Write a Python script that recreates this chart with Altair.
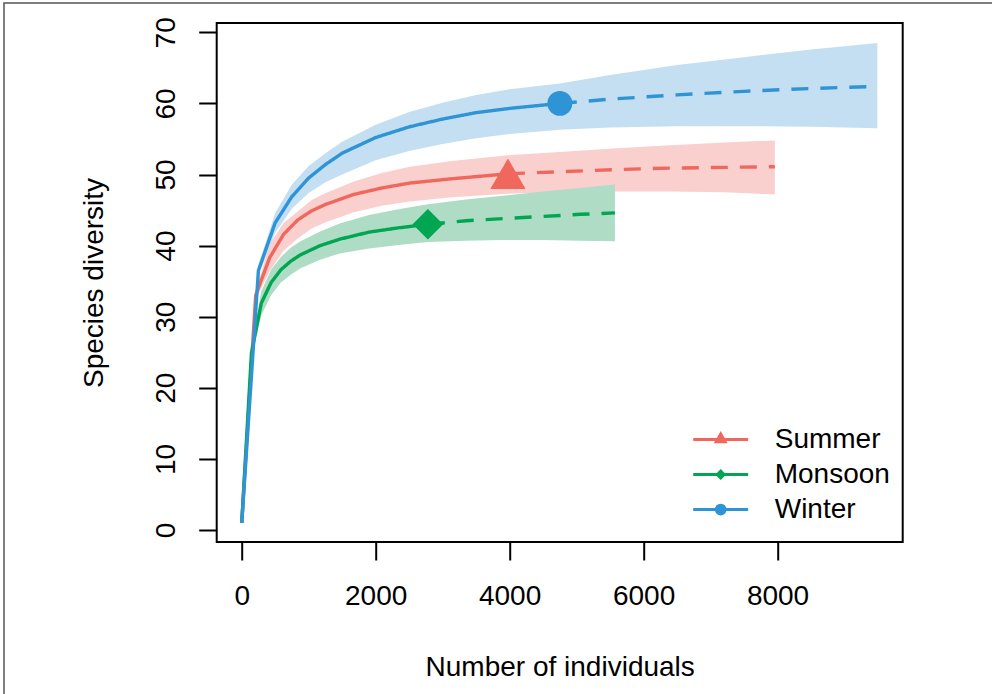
import altair as alt
import pandas as pd

# ---------------- data ----------------
seasons = ["Summer", "Monsoon", "Winter"]
observed_n = [3975, 2780, 4750]          # reference sample size of each season

summer_n    = [1, 209, 418, 627, 836, 1046, 1255, 1674, 2092, 2511, 3138, 3975, 4800, 5600, 6400, 7200, 7960]
summer_mean = [1, 33.0, 38.3, 41.6, 43.6, 44.9, 45.8, 47.2, 48.1, 48.8, 49.4, 50.1, 50.4, 50.7, 50.9, 51.0, 51.1]
summer_hi   = [1, 33.6, 40.2, 43.2, 44.8, 46.4, 47.4, 49.0, 50.2, 51.1, 51.9, 52.7, 53.2, 53.7, 54.1, 54.5, 54.8]
summer_lo   = [1, 32.4, 36.4, 39.3, 41.0, 42.4, 43.3, 44.7, 45.6, 46.2, 46.8, 47.3, 47.5, 47.6, 47.6, 47.5, 47.2]

monsoon_n    = [1, 146, 293, 439, 585, 732, 878, 1171, 1463, 1902, 2341, 2780, 3350, 3900, 4500, 5050, 5572]
monsoon_mean = [1, 24.9, 31.9, 34.8, 36.6, 37.8, 38.7, 40.0, 40.9, 41.9, 42.5, 43.0, 43.5, 43.8, 44.1, 44.4, 44.6]
monsoon_hi   = [1, 25.4, 33.6, 36.6, 38.4, 39.7, 40.6, 42.0, 43.1, 44.3, 45.1, 45.8, 46.5, 47.0, 47.6, 48.1, 48.6]
monsoon_lo   = [1, 24.4, 30.2, 33.0, 34.8, 35.9, 36.8, 38.0, 38.9, 39.6, 40.1, 40.5, 40.7, 40.8, 40.8, 40.7, 40.6]

winter_n    = [1, 250, 500, 750, 1000, 1250, 1500, 2000, 2500, 3000, 3500, 4000, 4750, 5500, 6500, 7500, 8500, 9490]
winter_mean = [1, 36.5, 43.2, 46.9, 49.5, 51.4, 53.0, 55.2, 56.7, 57.8, 58.7, 59.3, 60.0, 60.6, 61.2, 61.7, 62.1, 62.4]
winter_hi   = [1, 37.3, 44.6, 48.6, 51.2, 53.0, 54.6, 57.0, 58.8, 60.1, 61.2, 62.0, 62.8, 64.0, 65.4, 66.5, 67.6, 68.5]
winter_lo   = [1, 35.8, 41.8, 45.2, 47.4, 48.9, 50.0, 52.0, 53.3, 54.3, 55.1, 55.7, 56.3, 56.6, 56.8, 56.8, 56.7, 56.5]

x_ticks = [0, 2000, 4000, 6000, 8000]
y_ticks = [0, 10, 20, 30, 40, 50, 60, 70]

# ---------------- styling ----------------
line_colors = ["#F0675D", "#00A651", "#2E94D6"]
band_colors = ["#F9D0CE", "#AEDCC5", "#C5DFF2"]
FONT = "Liberation Sans"

# ---------------- tables ----------------
series = {
    "Summer": (summer_n, summer_mean, summer_lo, summer_hi),
    "Monsoon": (monsoon_n, monsoon_mean, monsoon_lo, monsoon_hi),
    "Winter": (winter_n, winter_mean, winter_lo, winter_hi),
}
rows = []
band_rows = []
obs_rows = []
for s, nobs in zip(seasons, observed_n):
    ns, ms, ls, hs = series[s]
    for n, m, lo, hi in zip(ns, ms, ls, hs):
        base = {"season": s, "n": n, "S": m, "lo": lo, "hi": hi}
        band_rows.append(base)
        if n <= nobs:
            rows.append({**base, "part": "Rarefaction"})
        if n >= nobs:
            rows.append({**base, "part": "Extrapolation"})
        if n == nobs:
            obs_rows.append({"season": s, "n": n, "S": m})
curves = pd.DataFrame(rows)
band_df = pd.DataFrame(band_rows)
obs = pd.DataFrame(obs_rows)

x_scale = alt.Scale(domain=[-373, 9869], nice=False, zero=False)
y_scale = alt.Scale(domain=[-1.69, 71.31], nice=False, zero=False)

x_axis = alt.Axis(
    values=x_ticks, format="d", title="Number of individuals", grid=False, domain=False,
    tickSize=18, tickWidth=2, tickColor="black", labelFontSize=28, labelFont=FONT,
    labelColor="black", labelBaseline="alphabetic", labelPadding=44, labelFlush=False,
    titleFontSize=28, titleFont=FONT, titleFontWeight="normal", titleColor="black",
    titleBaseline="alphabetic", titleY=133,
)
y_axis = alt.Axis(
    values=y_ticks, format="d", title="Species diversity", grid=False, domain=False,
    tickSize=18, tickWidth=2, tickColor="black", labelFontSize=28, labelFont=FONT,
    labelColor="black", labelAngle=270, labelAlign="center", labelBaseline="alphabetic",
    labelPadding=24, labelFlush=False,
    titleFontSize=28, titleFont=FONT, titleFontWeight="normal", titleColor="black",
    titleAngle=270, titleAlign="center", titleBaseline="alphabetic", titleX=-114, titleY=259.5,
)

color_scale = alt.Scale(domain=seasons, range=line_colors)

# confidence bands, one layer per season so the drawing order is fixed
bands = []
for s, bc in zip(seasons, band_colors):
    sub = band_df[band_df["season"] == s]
    bands.append(
        alt.Chart(sub)
        .mark_area(fill=bc, opacity=1)
        .encode(
            x=alt.X("n:Q", scale=x_scale, axis=x_axis),
            y=alt.Y("lo:Q", scale=y_scale, axis=y_axis),
            y2=alt.Y2("hi:Q"),
        )
    )

lines = alt.Chart(curves).mark_line(strokeWidth=3.4, strokeCap="butt").encode(
    x=alt.X("n:Q", scale=x_scale, axis=x_axis),
    y=alt.Y("S:Q", scale=y_scale, axis=y_axis),
    color=alt.Color("season:N", scale=color_scale, legend=None),
    strokeDash=alt.StrokeDash(
        "part:N",
        scale=alt.Scale(domain=["Rarefaction", "Extrapolation"], range=[[1, 0], [17, 12]]),
        legend=None,
    ),
    detail="part:N",
    order="n:Q",
)

markers = alt.Chart(obs).mark_point(filled=True, opacity=1).encode(
    x=alt.X("n:Q", scale=x_scale, axis=x_axis),
    y=alt.Y("S:Q", scale=y_scale, axis=y_axis),
    color=alt.Color("season:N", scale=color_scale, legend=None),
    shape=alt.Shape("season:N", scale=alt.Scale(domain=seasons, range=["triangle-up", "diamond", "circle"]), legend=None),
    size=alt.Size("season:N", scale=alt.Scale(domain=seasons, range=[1250, 620, 573]), legend=None),
)

# legend symbols: a line with the marker in the middle
legend_paths = [
    "M-1.57,0H1.57M0,-0.31L0.25,0.13L-0.25,0.13Z",
    "M-1.57,0H1.57M-0.19,0L0,-0.19L0.19,0L0,0.19Z",
    "M-1.57,0H1.57M-0.25,0A0.25,0.25 0 1,0 0.25,0A0.25,0.25 0 1,0 -0.25,0Z",
]
leg = dict(
    title=None, orient="none", legendX=485, legendY=397.5, padding=0,
    symbolSize=1225, symbolStrokeWidth=3, symbolOpacity=1,
    labelFontSize=28, labelFont=FONT, labelColor="black", labelOffset=35,
    rowPadding=2, labelLimit=300,
)
legend_layer = alt.Chart(obs).mark_point(filled=True, opacity=0, strokeWidth=3).encode(
    x=alt.X("n:Q", scale=x_scale, axis=x_axis),
    y=alt.Y("S:Q", scale=y_scale, axis=y_axis),
    fill=alt.Fill("season:N", scale=alt.Scale(domain=seasons, range=line_colors), legend=alt.Legend(**leg)),
    stroke=alt.Stroke("season:N", scale=alt.Scale(domain=seasons, range=line_colors), legend=alt.Legend(**leg)),
    shape=alt.Shape("season:N", scale=alt.Scale(domain=seasons, range=legend_paths), legend=alt.Legend(**leg)),
)

# thin frame around the whole figure
frame = alt.Chart(pd.DataFrame({"k": [0]})).mark_rect(
    fillOpacity=0, stroke="#555555", strokeWidth=1.5
).encode(
    x=alt.value(-212.7), x2=alt.value(790), y=alt.value(-20), y2=alt.value(700)
)

chart = alt.layer(*bands, lines, markers, legend_layer, frame).resolve_scale(
    fill="independent", stroke="independent", shape="independent"
).properties(
    width=686, height=519,
    autosize=alt.AutoSizeParams(type="none"),
    padding={"left": 216.7, "top": 23, "right": 89.3, "bottom": 152},
    background="white",
).configure_view(stroke="black", strokeWidth=2)

chart.save("out.html", embed_options={"renderer": "svg", "actions": False})
